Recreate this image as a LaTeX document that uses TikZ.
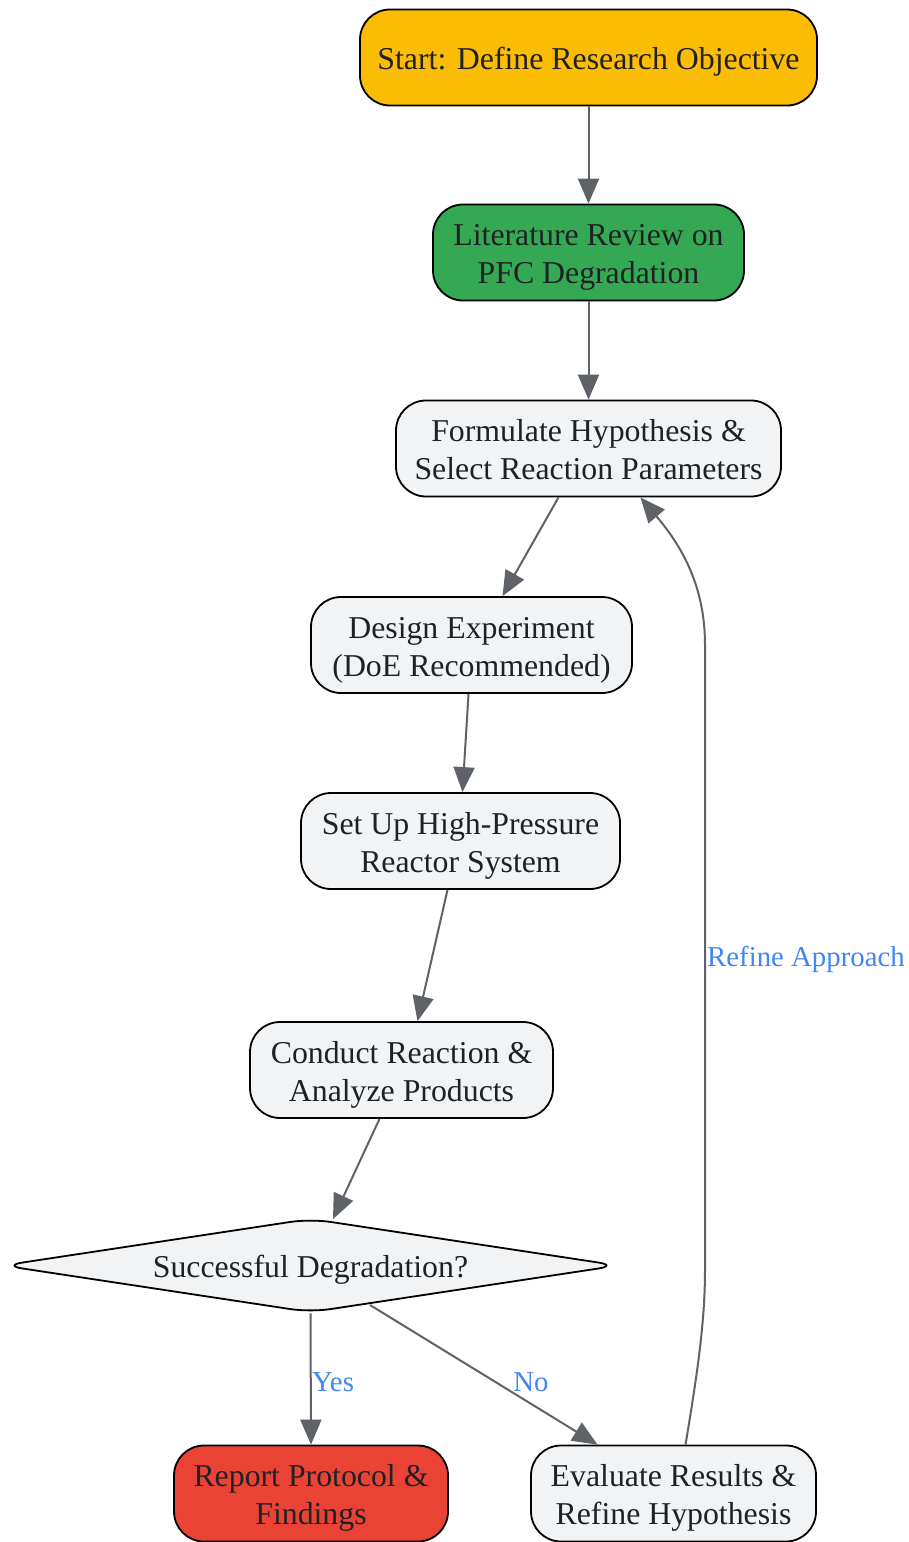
\documentclass[tikz,border=0pt]{standalone}
\usepackage{fontspec}
\setmainfont{Liberation Serif}
\usetikzlibrary{shapes.geometric,arrows.meta,calc}
\definecolor{cyellow}{HTML}{FBBC04}
\definecolor{cgreen}{HTML}{34A853}
\definecolor{cred}{HTML}{EA4335}
\definecolor{cgray}{HTML}{F1F3F4}
\definecolor{ctext}{HTML}{202124}
\definecolor{cedge}{HTML}{5F6368}
\definecolor{clab}{HTML}{4285F4}
\newcommand{\boxlines}[1]{\raisebox{-4.5pt}[\height][\depth]{\begin{tabular}{@{}c@{}}#1\end{tabular}}}
\begin{document}
\begin{tikzpicture}[x=1pt,y=-1pt,
  box/.style={draw=black, line width=1.8pt, rounded corners=30pt, align=center,
    font=\fontsize{31.8}{38}\selectfont, text=ctext, inner sep=0pt, minimum height=96pt, fill=cgray},
  dec/.style={draw=black, line width=1.8pt, shape=diamond, aspect=6.6, rounded corners=20pt,
    font=\fontsize{31.8}{38}\selectfont, text=ctext, inner sep=0pt, minimum width=616pt, minimum height=94pt, fill=cgray},
  edge/.style={draw=cedge, line width=2pt, -{Triangle[length=25pt,width=21pt]}},
  lab/.style={text=clab, font=\fontsize{28.8}{34}\selectfont, inner sep=0pt}
]
\useasboundingbox (0,0) rectangle (909,1542);
\fill[white] (0,0) rectangle (909,1542);

\node[box, fill=cyellow, minimum width=457pt] (start) at (588.5,57.5) {\boxlines{Start: Define Research Objective}};
\node[box, fill=cgreen, minimum width=311pt] (lit) at (588.5,252.5) {\boxlines{Literature Review on\\PFC Degradation}};
\node[box, minimum width=385pt] (form) at (588.5,448.5) {\boxlines{Formulate Hypothesis \&\\Select Reaction Parameters}};
\node[box, minimum width=321pt] (design) at (471.5,645) {\boxlines{Design Experiment\\(DoE Recommended)}};
\node[box, minimum width=319pt] (setup) at (460.5,841) {\boxlines{Set Up High-Pressure\\Reactor System}};
\node[box, minimum width=303pt] (conduct) at (401.5,1070) {\boxlines{Conduct Reaction \&\\Analyze Products}};
\node[dec] (dia) at (310.5,1265.5) {\boxlines{Successful Degradation?}};
\node[box, fill=cred, minimum width=274pt] (report) at (311,1493.5) {\boxlines{Report Protocol \&\\Findings}};
\node[box, minimum width=285pt] (eval) at (673.5,1493.5) {\boxlines{Evaluate Results \&\\Refine Hypothesis}};

\coordinate (diaTopR) at (333,1219);
\coordinate (diaBotR) at (370,1305);

\draw[edge] (start) -- (lit);
\draw[edge] (lit) -- (form);
\draw[edge] ($(form.south)+(-30,0)$) -- ($(design.north)+(31,0)$);
\draw[edge] ($(design.south)+(-3,0)$) -- ($(setup.north)+(2,0)$);
\draw[edge] ($(setup.south)+(-13,0)$) -- ($(conduct.north)+(16,0)$);
\draw[edge] ($(conduct.south)+(-22,0)$) -- (diaTopR);
\draw[edge] (dia.south) -- (report.north);
\draw[edge] (diaBotR) -- ($(eval.north)+(-76,0)$);
\draw[edge] ($(eval.north)+(12,0)$) .. controls (698,1370) and (705,1320) .. (705,1270)
  -- (705,645) .. controls (705,590) and (685,550) .. ($(form.south)+(52,0)$);
\node[lab] (yeslab) at (333,1382) {Yes};
\node[lab] (nolab) at (531,1382) {No};
\node[lab, anchor=west] (reflab) at (707,959) {Refine Approach};
\end{tikzpicture}
\end{document}
